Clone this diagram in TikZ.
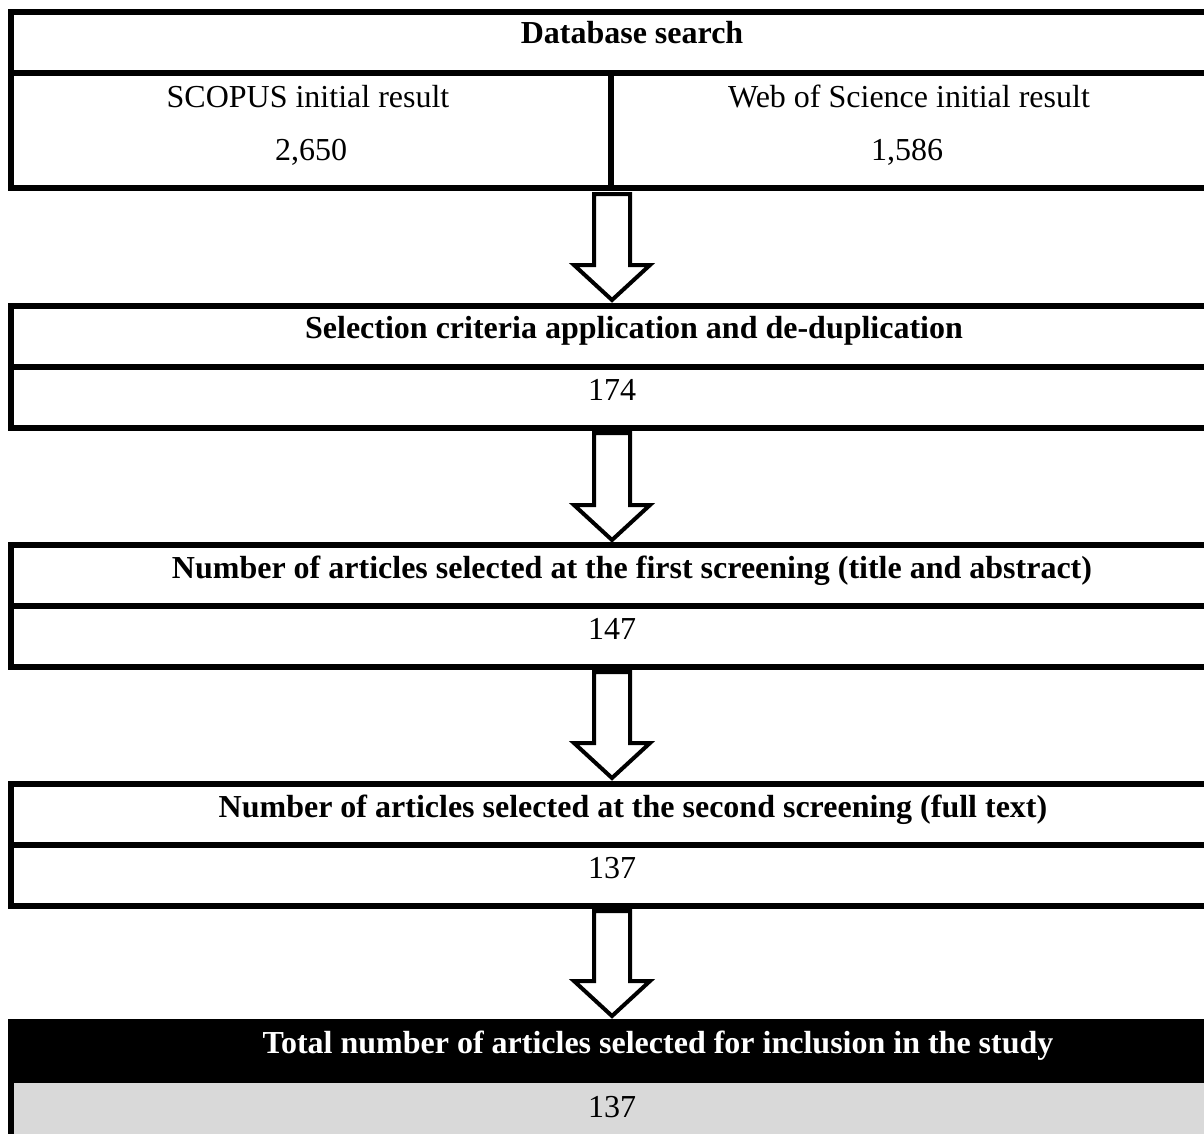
\documentclass[tikz,border=0pt]{standalone}
\usepackage{fontspec}
\setmainfont{Liberation Serif}
\usetikzlibrary{calc}
\definecolor{cellgray}{RGB}{217,217,217}
\begin{document}
\begin{tikzpicture}[x=1pt,y=-1pt,
  cell/.style={draw,line width=6pt,rectangle,inner sep=0pt,outer sep=0pt,anchor=north west},
  band/.style={rectangle,inner sep=0pt,outer sep=0pt,anchor=north west},
  txt/.style={font=\fontsize{32}{38}\selectfont,anchor=base,inner sep=0pt},
  ttl/.style={txt,font=\fontsize{32}{38}\selectfont\bfseries},
  barrow/.style={draw,fill=white,line width=4pt,line join=miter}]
\useasboundingbox (0,0) rectangle (1204,1133);
\clip (0,0) rectangle (1204,1133);

% Database search table
\node[cell,minimum width=1300pt,minimum height=61pt]  (dbhead) at (11,12) {};
\node[cell,minimum width=600pt,minimum height=115pt]  (sccell) at (11,73) {};
\node[cell,minimum width=700pt,minimum height=115pt]  (wscell) at (611,73) {};
\node[ttl] (dbt) at (632,43)  {Database search};
\node[txt] (scl) at (308,107) {SCOPUS initial result};
\node[txt] (scn) at (311,160) {2,650};
\node[txt] (wsl) at (909,107) {Web of Science initial result};
\node[txt] (wsn) at (907,160) {1,586};

% Selection criteria
\node[cell,minimum width=1300pt,minimum height=61pt] (selhead) at (11,306) {};
\node[cell,minimum width=1300pt,minimum height=61pt] (selnum)  at (11,367) {};
\node[ttl] (selt) at (634,338) {Selection criteria application and de-duplication};
\node[txt] (seln) at (612,400) {174};

% First screening
\node[cell,minimum width=1300pt,minimum height=61pt] (sahead) at (11,545) {};
\node[cell,minimum width=1300pt,minimum height=61pt] (sanum)  at (11,606) {};
\node[ttl] (sat) at (632,578) {Number of articles selected at the first screening (title and abstract)};
\node[txt] (san) at (612,639) {147};

% Second screening
\node[cell,minimum width=1300pt,minimum height=61pt] (sbhead) at (11,784) {};
\node[cell,minimum width=1300pt,minimum height=61pt] (sbnum)  at (11,845) {};
\node[ttl] (sbt) at (633,817) {Number of articles selected at the second screening (full text)};
\node[txt] (sbn) at (612,878) {137};

% Final inclusion
\node[band,fill=black,minimum width=1300pt,minimum height=64pt]   (tothead) at (8,1019) {};
\node[band,fill=cellgray,minimum width=1300pt,minimum height=70pt] (totnum) at (14,1083) {};
\node[band,fill=black,minimum width=6pt,minimum height=120pt]      (totbar) at (8,1019) {};
\node[ttl,text=white] (tott) at (658,1053) {Total number of articles selected for inclusion in the study};
\node[txt] (totn) at (612,1117) {137};

% Block arrows between stages
\coordinate (t1) at ($(sccell.south east)+(1,6)$);
\coordinate (h1) at ($(selhead.north west)+(601,-6)$);
\coordinate (t2) at ($(selnum.south west)+(601,5)$);
\coordinate (h2) at ($(sahead.north west)+(601,-5)$);
\coordinate (t3) at ($(sanum.south west)+(601,5)$);
\coordinate (h3) at ($(sbhead.north west)+(601,-6)$);
\coordinate (t4) at ($(sbnum.south west)+(601,5)$);
\coordinate (h4) at ($(tothead.north west)+(604,-3)$);
\foreach \t/\h in {t1/h1,t2/h2,t3/h3,t4/h4}{
  \draw[barrow] ($(\t)+(-18,0)$) -- ($(\h)+(-18,-35)$) -- ($(\h)+(-38,-35)$)
    -- (\h) -- ($(\h)+(38,-35)$) -- ($(\h)+(18,-35)$) -- ($(\t)+(18,0)$) -- cycle;
}
\end{tikzpicture}
\end{document}
